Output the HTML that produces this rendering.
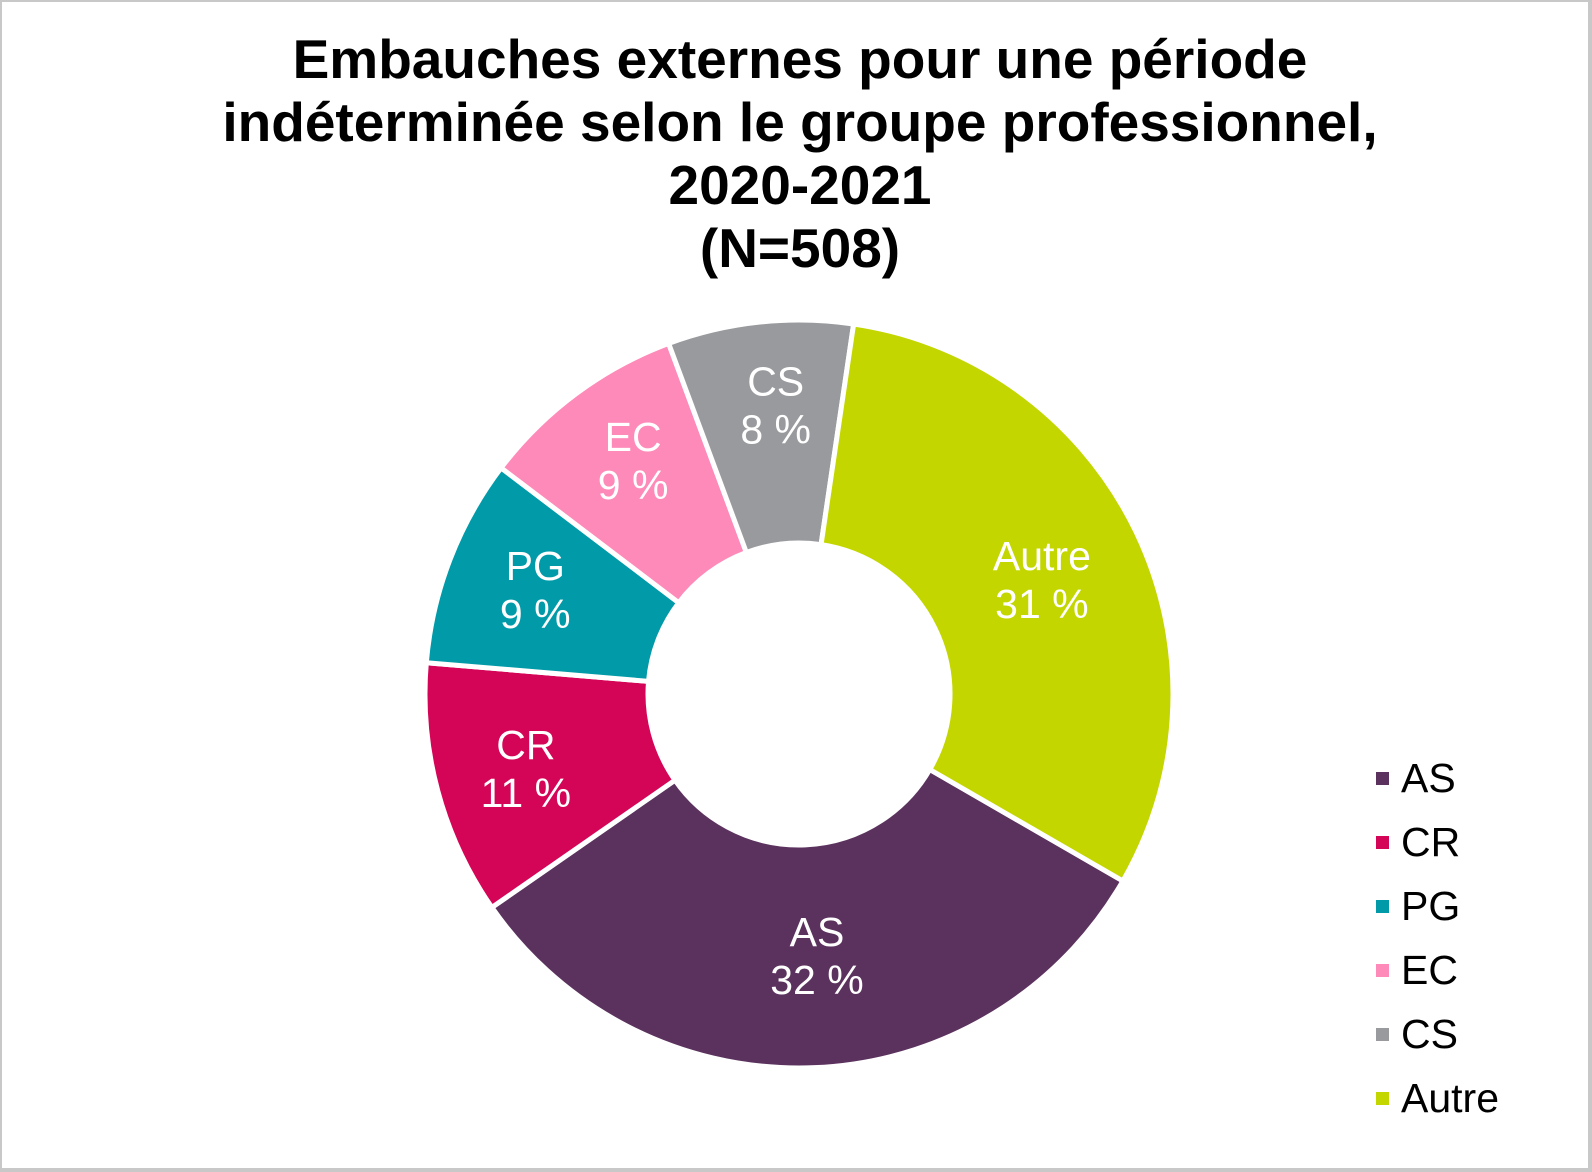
<!DOCTYPE html>
<html><head><meta charset="utf-8"><style>
html,body{margin:0;padding:0;background:#fff}
#wrap{position:relative;width:1592px;height:1172px;overflow:hidden;box-sizing:border-box;border:2px solid #c8c8c8;border-right-width:4px;border-bottom-width:4px}
text{font-family:"Liberation Sans",sans-serif}
</style></head><body>
<div id="wrap">
<svg id="chart" width="1592" height="1172" style="position:absolute;left:-2px;top:-2px">
<g font-weight="bold" font-size="55" text-anchor="middle" fill="#000">
<text x="800" y="78" font-family="Liberation Sans, sans-serif">Embauches externes pour une période</text>
<text x="800" y="141" font-family="Liberation Sans, sans-serif">indéterminée selon le groupe professionnel,</text>
<text x="800" y="204" font-family="Liberation Sans, sans-serif">2020-2021</text>
<text x="800" y="267" font-family="Liberation Sans, sans-serif">(N=508)</text>
</g>
<g id="slices"></g>
<g id="labels"></g>
<g id="legend"></g>
</svg>
</div>
<script>
const categories = ["AS","CR","PG","EC","CS","Autre"];
const values = [32,11,9,9,8,31];
const valueLabels = ["32 %","11 %","9 %","9 %","8 %","31 %"];
const colors = ["#5b325e","#d40456","#019aa8","#fe8ab9","#989a9d","#c3d600"];

const NS="http://www.w3.org/2000/svg";
const cx=799, cy=694, R=374, r=151, startDeg=120;
const total=values.reduce((a,b)=>a+b,0);
function pt(deg,rad){const a=deg*Math.PI/180;return [cx+rad*Math.sin(a),cy-rad*Math.cos(a)];}
const sg=document.getElementById('slices'), lg=document.getElementById('labels'), leg=document.getElementById('legend');
let acc=startDeg;
values.forEach((v,i)=>{
  const a0=acc, a1=acc+v/total*360; acc=a1;
  const large=(a1-a0)>180?1:0;
  const p0=pt(a0,R),p1=pt(a1,R),q1=pt(a1,r),q0=pt(a0,r);
  const p=document.createElementNS(NS,'path');
  p.setAttribute('d',`M${p0[0]},${p0[1]} A${R},${R} 0 ${large} 1 ${p1[0]},${p1[1]} L${q1[0]},${q1[1]} A${r},${r} 0 ${large} 0 ${q0[0]},${q0[1]} Z`);
  p.setAttribute('fill',colors[i]);p.setAttribute('stroke','#fff');p.setAttribute('stroke-width','5');
  
  
  sg.appendChild(p);
  const lr = (v/total) > 0.2 ? 262 : 290;
  const m=pt((a0+a1)/2,lr);
  const lx=m[0]+7;
  const t=document.createElementNS(NS,'text');
  t.setAttribute('x',lx);t.setAttribute('text-anchor','middle');t.setAttribute('fill','#fff');t.setAttribute('font-size','41');
  
  
  const s1=document.createElementNS(NS,'tspan');s1.setAttribute('x',lx);s1.setAttribute('y',m[1]-10);s1.textContent=categories[i];
  const s2=document.createElementNS(NS,'tspan');s2.setAttribute('x',lx);s2.setAttribute('y',m[1]+38);s2.textContent=valueLabels[i];
  t.appendChild(s1);t.appendChild(s2);lg.appendChild(t);
  const y=778+i*64;
  const g=document.createElementNS(NS,'g');
  
  
  const sq=document.createElementNS(NS,'rect');sq.setAttribute('x',1376);sq.setAttribute('y',y-6);sq.setAttribute('width',13);sq.setAttribute('height',13);sq.setAttribute('fill',colors[i]);
  const lt=document.createElementNS(NS,'text');lt.setAttribute('x',1401);lt.setAttribute('y',y+14);lt.setAttribute('font-size','41');lt.setAttribute('fill','#000');lt.textContent=categories[i];
  g.appendChild(sq);g.appendChild(lt);leg.appendChild(g);
});
</script>
</body></html>
